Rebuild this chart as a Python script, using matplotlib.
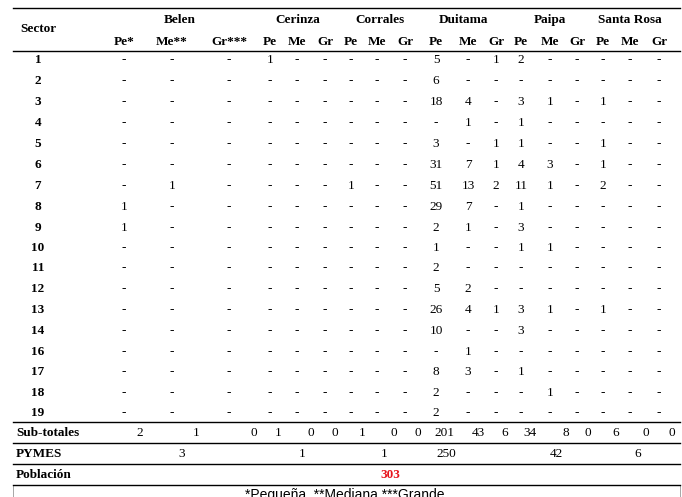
import matplotlib.pyplot as plt
from matplotlib.patches import Rectangle

W, H = 682, 497

towns = ['Belen', 'Cerinza', 'Corrales', 'Duitama', 'Paipa', 'Santa Rosa']
sectors = ['1', '2', '3', '4', '5', '6', '7', '8', '9', '10', '11', '12', '13', '14', '16', '17', '18', '19']
# 18 columns: Pe/Me/Gr per town
rows = [
    ['-', '-', '-', '1', '-', '-', '-', '-', '-', '5', '-', '1', '2', '-', '-', '-', '-', '-'],
    ['-', '-', '-', '-', '-', '-', '-', '-', '-', '6', '-', '-', '-', '-', '-', '-', '-', '-'],
    ['-', '-', '-', '-', '-', '-', '-', '-', '-', '18', '4', '-', '3', '1', '-', '1', '-', '-'],
    ['-', '-', '-', '-', '-', '-', '-', '-', '-', '-', '1', '-', '1', '-', '-', '-', '-', '-'],
    ['-', '-', '-', '-', '-', '-', '-', '-', '-', '3', '-', '1', '1', '-', '-', '1', '-', '-'],
    ['-', '-', '-', '-', '-', '-', '-', '-', '-', '31', '7', '1', '4', '3', '-', '1', '-', '-'],
    ['-', '1', '-', '-', '-', '-', '1', '-', '-', '51', '13', '2', '11', '1', '-', '2', '-', '-'],
    ['1', '-', '-', '-', '-', '-', '-', '-', '-', '29', '7', '-', '1', '-', '-', '-', '-', '-'],
    ['1', '-', '-', '-', '-', '-', '-', '-', '-', '2', '1', '-', '3', '-', '-', '-', '-', '-'],
    ['-', '-', '-', '-', '-', '-', '-', '-', '-', '1', '-', '-', '1', '1', '-', '-', '-', '-'],
    ['-', '-', '-', '-', '-', '-', '-', '-', '-', '2', '-', '-', '-', '-', '-', '-', '-', '-'],
    ['-', '-', '-', '-', '-', '-', '-', '-', '-', '5', '2', '-', '-', '-', '-', '-', '-', '-'],
    ['-', '-', '-', '-', '-', '-', '-', '-', '-', '26', '4', '1', '3', '1', '-', '1', '-', '-'],
    ['-', '-', '-', '-', '-', '-', '-', '-', '-', '10', '-', '-', '3', '-', '-', '-', '-', '-'],
    ['-', '-', '-', '-', '-', '-', '-', '-', '-', '-', '1', '-', '-', '-', '-', '-', '-', '-'],
    ['-', '-', '-', '-', '-', '-', '-', '-', '-', '8', '3', '-', '1', '-', '-', '-', '-', '-'],
    ['-', '-', '-', '-', '-', '-', '-', '-', '-', '2', '-', '-', '-', '1', '-', '-', '-', '-'],
    ['-', '-', '-', '-', '-', '-', '-', '-', '-', '2', '-', '-', '-', '-', '-', '-', '-', '-'],
]
subtotals = [2, 1, 0, 1, 0, 0, 1, 0, 0, 201, 43, 6, 34, 8, 0, 6, 0, 0]
pymes = [3, 1, 1, 250, 42, 6]
poblacion = 303
sub_heads = ['Pe*', 'Me**', 'Gr***'] + ['Pe', 'Me', 'Gr'] * 5

fig = plt.figure(figsize=(W / 100, H / 100), dpi=100)
FONT = 'Liberation Serif'
FS = 9.5


def txt(x, y, s, ha='center', bold=False, color='black', fs=FS, family=FONT):
    fig.text(x / W, 1 - y / H, s, ha=ha, va='center', fontsize=fs, family=family,
             fontweight='bold' if bold else 'normal', color=color)


def hline(y, x0=13, x1=680, lw=1.0):
    fig.add_artist(plt.Line2D([x0 / W, x1 / W], [1 - y / H, 1 - y / H], color='black', lw=lw))


col_x = [124, 172, 229, 270, 297, 325, 351, 377, 405, 436, 468, 496, 521, 550, 577, 603, 630, 659]
town_x = [180, 298, 380, 463, 550, 630]
row_y = [60, 81, 102, 123, 144, 165, 186, 207, 228, 248, 268, 289, 310, 331, 352, 372, 393, 413]

# header
txt(38, 29, 'Sector', bold=True)
for t, x in zip(towns, town_x):
    txt(x, 20, t, bold=True)
for h, x in zip(sub_heads, col_x):
    txt(x, 42, h, bold=True)

hline(8)
hline(51)

for s, y, r in zip(sectors, row_y, rows):
    txt(38, y, s, bold=True)
    for v, x in zip(r, col_x):
        txt(x, y, v)

hline(422)
sub_x = [140, 196, 254, 278, 311, 335, 362, 394, 418, 444, 478, 505, 530, 566, 588, 616, 646, 672]
txt(16, 433, 'Sub-totales', ha='left', bold=True)
for v, x in zip(subtotals, sub_x):
    txt(x, 433, str(v))
hline(443)
txt(16, 454, 'PYMES', ha='left', bold=True)
for v, x in zip(pymes, [182, 302, 384, 446, 556, 638]):
    txt(x, 454, str(v))
hline(464)
txt(16, 475, 'Población', ha='left', bold=True)
txt(390, 475, str(poblacion), bold=True, color='#e8141c')
hline(485)

fig.add_artist(Rectangle((13 / W, 0), 667 / W, 1 - 485 / H, fill=False, lw=0.6,
                         edgecolor='#999999', transform=fig.transFigure))
txt(345, 495, '*Pequeña, **Mediana ***Grande', fs=10, family='Liberation Sans')

fig.savefig('out.png', dpi=100)
